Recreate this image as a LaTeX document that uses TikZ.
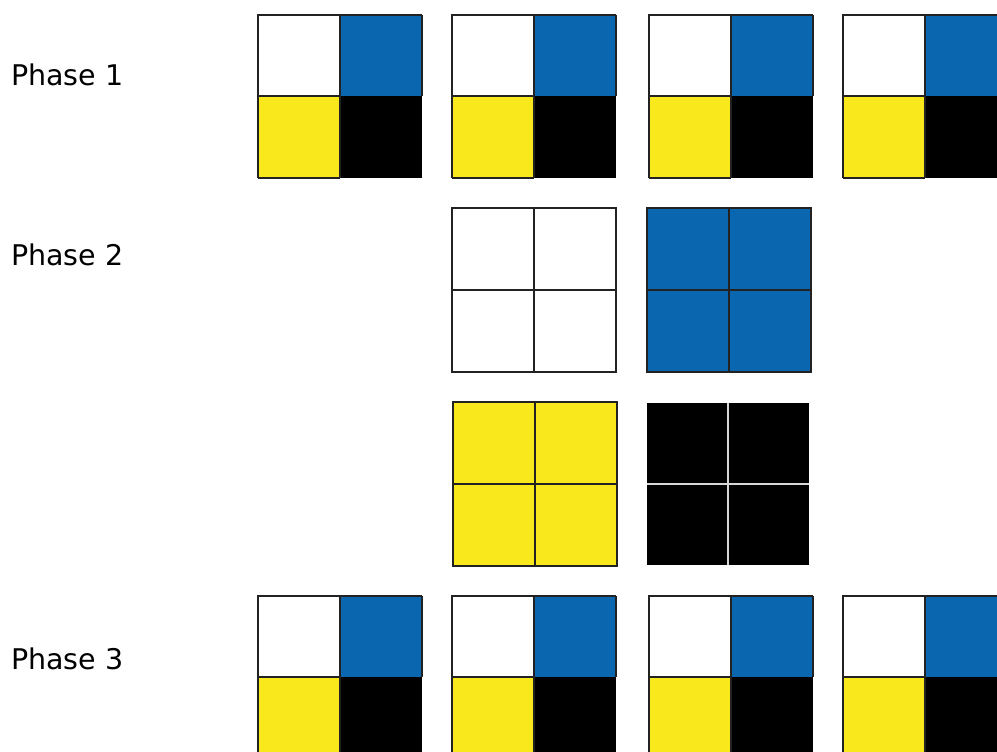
\documentclass[tikz,border=0pt]{standalone}
\usepackage{fontspec}
\setmainfont{DejaVu Sans}
\definecolor{cblue}{RGB}{11,102,176}
\definecolor{cyellow}{RGB}{248,232,28}
\definecolor{cline}{RGB}{34,34,34}
\definecolor{cgap}{RGB}{215,215,215}
\begin{document}
\begin{tikzpicture}[x=1pt,y=-1pt,
  edge/.style={draw=cline,line width=1.6pt},
  gapline/.style={draw=cgap,line width=2pt},
  label/.style={anchor=base west,inner sep=0pt,font=\fontsize{28.5}{34}\selectfont}]
\useasboundingbox (0,0) rectangle (997,752);
\clip (0,0) rectangle (997,752);
% four-colour square: #1 = left x, #2 = top y
\newcommand\quadsq[2]{%
  \fill[white] (#1,#2) rectangle ++(82,81);
  \fill[cblue] (#1+82,#2) rectangle ++(82,81);
  \fill[cyellow] (#1,#2+81) rectangle ++(82,82);
  \fill[black] (#1+82,#2+81) rectangle ++(82,82);
  \draw[edge] (#1,#2+163) -- (#1,#2) -- (#1+164,#2);
  \draw[edge] (#1,#2+81) -- (#1+82,#2+81) -- (#1+82,#2);
  \draw[edge] (#1+82,#2+81) -- (#1+82,#2+163);
  \draw[edge] (#1,#2+163) -- (#1+82,#2+163);
  \draw[edge] (#1+164,#2) -- (#1+164,#2+81);
}
% uniform 2x2 square: #1 x, #2 y, #3 fill
\newcommand\unisq[3]{%
  \fill[#3] (#1,#2) rectangle ++(164,164);
  \draw[edge] (#1,#2) rectangle ++(164,164);
  \draw[edge] (#1+82,#2) -- ++(0,164);
  \draw[edge] (#1,#2+82) -- ++(164,0);
}
\node[label] (p1) at (11,85) {Phase 1};
\node[label] (p2) at (11,265) {Phase 2};
\node[label] (p3) at (11,669) {Phase 3};
\foreach \x in {258,452,649,843} {\quadsq{\x}{15}}
\foreach \x in {258,452,649,843} {\quadsq{\x}{596}}
\unisq{452}{208}{white}
\unisq{647}{208}{cblue}
\unisq{453}{402}{cyellow}
\fill[black] (647,403) rectangle ++(162,162);
\draw[gapline] (728,403) -- ++(0,162);
\draw[gapline] (647,484) -- ++(162,0);
\end{tikzpicture}
\end{document}
